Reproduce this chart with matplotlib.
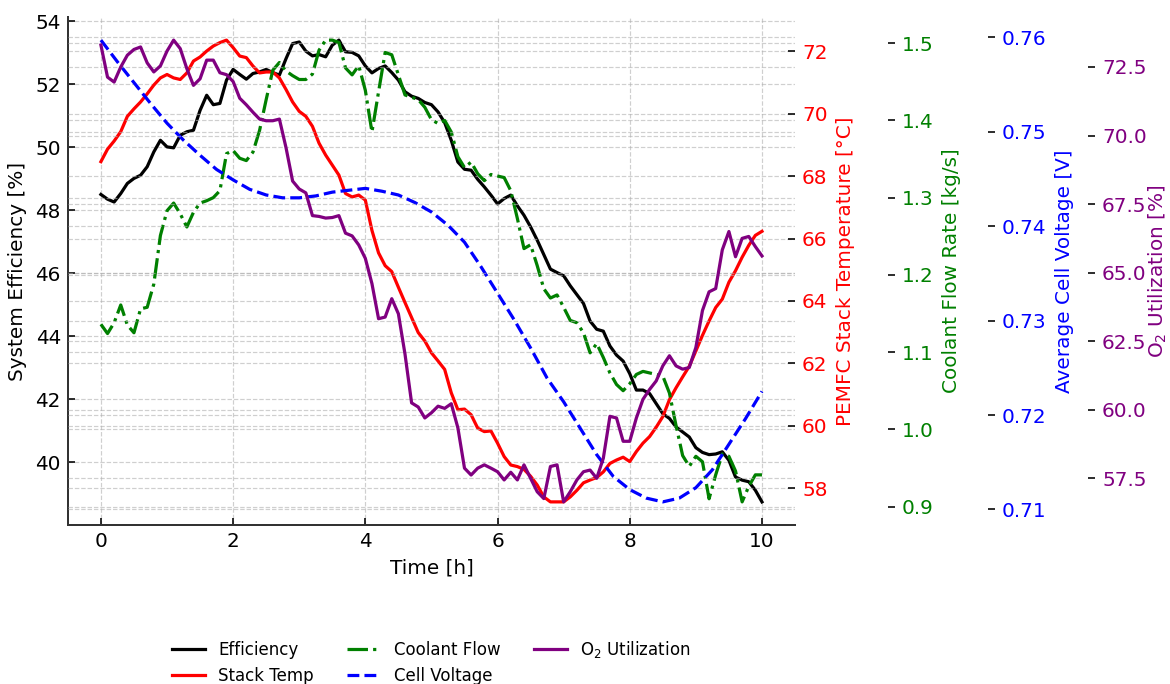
import matplotlib.pyplot as plt
import numpy as np

# Sampled every 6 minutes over the 10 h run
time_h = np.linspace(0, 10, 101)

efficiency = [
    48.50, 48.35, 48.26, 48.53, 48.85, 49.01, 49.11, 49.38, 49.85, 50.22,
    50.01, 49.98, 50.38, 50.49, 50.54, 51.17, 51.65, 51.35, 51.39, 52.13,
    52.47, 52.31, 52.16, 52.34, 52.39, 52.47, 52.37, 52.29, 52.81, 53.29,
    53.34, 53.05, 52.90, 52.94, 52.87, 53.24, 53.40, 53.03, 53.01, 52.90,
    52.58, 52.36, 52.50, 52.58, 52.37, 52.13, 51.76, 51.62, 51.55, 51.42,
    51.35, 51.12, 50.78, 50.22, 49.53, 49.30, 49.27, 48.98, 48.74, 48.48,
    48.20, 48.37, 48.48, 48.14, 47.84, 47.47, 47.05, 46.59, 46.13, 46.02,
    45.92, 45.60, 45.32, 45.04, 44.48, 44.22, 44.16, 43.69, 43.40, 43.21,
    42.81, 42.29, 42.29, 42.18, 41.86, 41.54, 41.39, 41.12, 40.96, 40.80,
    40.46, 40.31, 40.24, 40.26, 40.33, 40.06, 39.53, 39.43, 39.38, 39.11,
    38.74,
]

stack_temp = [
    68.46, 68.86, 69.12, 69.42, 69.91, 70.15, 70.37, 70.63, 70.91, 71.14,
    71.25, 71.14, 71.09, 71.30, 71.68, 71.81, 72.00, 72.16, 72.27, 72.35,
    72.11, 71.84, 71.79, 71.52, 71.30, 71.33, 71.33, 71.14, 70.77, 70.37,
    70.07, 69.91, 69.59, 69.05, 68.67, 68.35, 68.03, 67.44, 67.33, 67.39,
    67.23, 66.26, 65.54, 65.13, 64.94, 64.44, 63.95, 63.47, 62.99, 62.72,
    62.34, 62.08, 61.81, 61.06, 60.52, 60.54, 60.36, 59.93, 59.82, 59.84,
    59.45, 59.02, 58.75, 58.70, 58.61, 58.39, 58.11, 57.73, 57.57, 57.57,
    57.57, 57.73, 57.94, 58.18, 58.27, 58.35, 58.53, 58.80, 58.91, 59.00,
    58.86, 59.18, 59.45, 59.66, 59.96, 60.30, 60.84, 61.22, 61.57, 61.91,
    62.40, 62.90, 63.36, 63.79, 64.06, 64.60, 64.97, 65.40, 65.78, 66.10,
    66.23,
]

coolant_flow = [
    1.136, 1.124, 1.138, 1.161, 1.135, 1.125, 1.156, 1.158, 1.188, 1.251,
    1.283, 1.293, 1.279, 1.262, 1.281, 1.293, 1.296, 1.300, 1.309, 1.357,
    1.361, 1.351, 1.348, 1.359, 1.387, 1.427, 1.465, 1.475, 1.464, 1.458,
    1.453, 1.453, 1.460, 1.491, 1.504, 1.504, 1.501, 1.468, 1.459, 1.471,
    1.439, 1.385, 1.437, 1.488, 1.485, 1.459, 1.433, 1.430, 1.427, 1.417,
    1.401, 1.396, 1.400, 1.385, 1.353, 1.339, 1.346, 1.331, 1.322, 1.330,
    1.328, 1.326, 1.309, 1.273, 1.234, 1.239, 1.212, 1.182, 1.170, 1.174,
    1.158, 1.141, 1.138, 1.125, 1.099, 1.111, 1.093, 1.073, 1.058, 1.050,
    1.059, 1.071, 1.075, 1.073, 1.071, 1.069, 1.047, 1.005, 0.966, 0.952,
    0.965, 0.958, 0.910, 0.941, 0.968, 0.965, 0.946, 0.906, 0.926, 0.941,
    0.941,
]

o2_utilization = [
    73.30, 72.13, 71.95, 72.50, 72.93, 73.14, 73.23, 72.65, 72.32, 72.54,
    73.08, 73.48, 73.17, 72.44, 71.83, 72.07, 72.75, 72.75, 72.29, 72.22,
    71.97, 71.36, 71.12, 70.85, 70.60, 70.54, 70.54, 70.60, 69.56, 68.34,
    68.05, 67.91, 67.08, 67.05, 66.99, 67.01, 67.08, 66.44, 66.34, 66.01,
    65.52, 64.60, 63.32, 63.38, 64.05, 63.50, 62.03, 60.25, 60.10, 59.70,
    59.89, 60.13, 60.05, 60.22, 59.34, 57.87, 57.62, 57.87, 57.99, 57.87,
    57.74, 57.44, 57.72, 57.44, 57.99, 57.50, 57.01, 56.76, 57.93, 57.99,
    56.64, 57.01, 57.44, 57.74, 57.80, 57.50, 58.23, 59.76, 59.70, 58.85,
    58.85, 59.70, 60.38, 60.74, 61.05, 61.60, 61.97, 61.60, 61.48, 61.54,
    62.27, 63.62, 64.30, 64.42, 65.83, 66.50, 65.58, 66.25, 66.32, 65.95,
    65.61,
]

# Cell voltage is smooth, a coarser grid is enough
voltage_time_h = np.linspace(0, 10, 41)
cell_voltage = [
    0.7597, 0.7574, 0.7552, 0.7530, 0.7509, 0.7491, 0.7475, 0.7460, 0.7449,
    0.7439, 0.7433, 0.7430, 0.7430, 0.7432, 0.7436, 0.7438, 0.7440, 0.7437,
    0.7433, 0.7425, 0.7415, 0.7401, 0.7383, 0.7357, 0.7329, 0.7301, 0.7271,
    0.7239, 0.7214, 0.7186, 0.7158, 0.7135, 0.7121, 0.7112, 0.7108, 0.7112,
    0.7123, 0.7142, 0.7169, 0.7196, 0.7225,
]

plt.rcParams.update({
    "font.size": 10,
    "axes.grid": True,
    "grid.linestyle": "--",
    "grid.color": "#b0b0b0",
    "grid.alpha": 0.6,
    "grid.linewidth": 0.6,
})

fig = plt.figure(figsize=(8.125, 4.75), dpi=144)
ax = fig.add_axes([0.058, 0.2325, 0.6215, 0.7426])

ax2 = ax.twinx()
ax3 = ax.twinx()
ax4 = ax.twinx()
ax5 = ax.twinx()
ax3.spines["right"].set_position(("outward", 50))
ax4.spines["right"].set_position(("outward", 100))
ax5.spines["right"].set_position(("outward", 150))

lw = 1.6
l1, = ax.plot(time_h, efficiency, color="black", lw=lw, label="Efficiency")
l2, = ax2.plot(time_h, stack_temp, color="red", lw=lw, label="Stack Temp")
l3, = ax3.plot(time_h, coolant_flow, color="green", lw=lw, ls="-.",
               label="Coolant Flow")
l4, = ax4.plot(voltage_time_h, cell_voltage, color="blue", lw=lw, ls="--",
               label="Cell Voltage")
l5, = ax5.plot(time_h, o2_utilization, color="purple", lw=lw,
               label="O$_2$ Utilization")

ax.set_xlabel("Time [h]")
ax.set_ylabel("System Efficiency [%]")
ax.tick_params(direction="in")
for side in ["top", "right"]:
    ax.spines[side].set_visible(False)
for side in ["left", "bottom"]:
    ax.spines[side].set_color("#333333")
    ax.spines[side].set_linewidth(1.0)

twins = [
    (ax2, "red", "PEMFC Stack Temperature [°C]", 4),
    (ax3, "green", "Coolant Flow Rate [kg/s]", 4),
    (ax4, "blue", "Average Cell Voltage [V]", 4),
    (ax5, "purple", "O$_2$ Utilization [%]", 0),
]
for a, c, lab, pad in twins:
    a.set_ylabel(lab, color=c, labelpad=pad)
    a.tick_params(axis="y", direction="in", labelcolor=c)
    for s in a.spines.values():
        s.set_visible(False)

handles = [l1, l2, l3, l4, l5]
fig.legend(handles, [h.get_label() for h in handles], loc="upper center",
           bbox_to_anchor=(0.3685, 0.088), ncol=3, frameon=False,
           fontsize="small")

fig.savefig("out.png", dpi=144)
